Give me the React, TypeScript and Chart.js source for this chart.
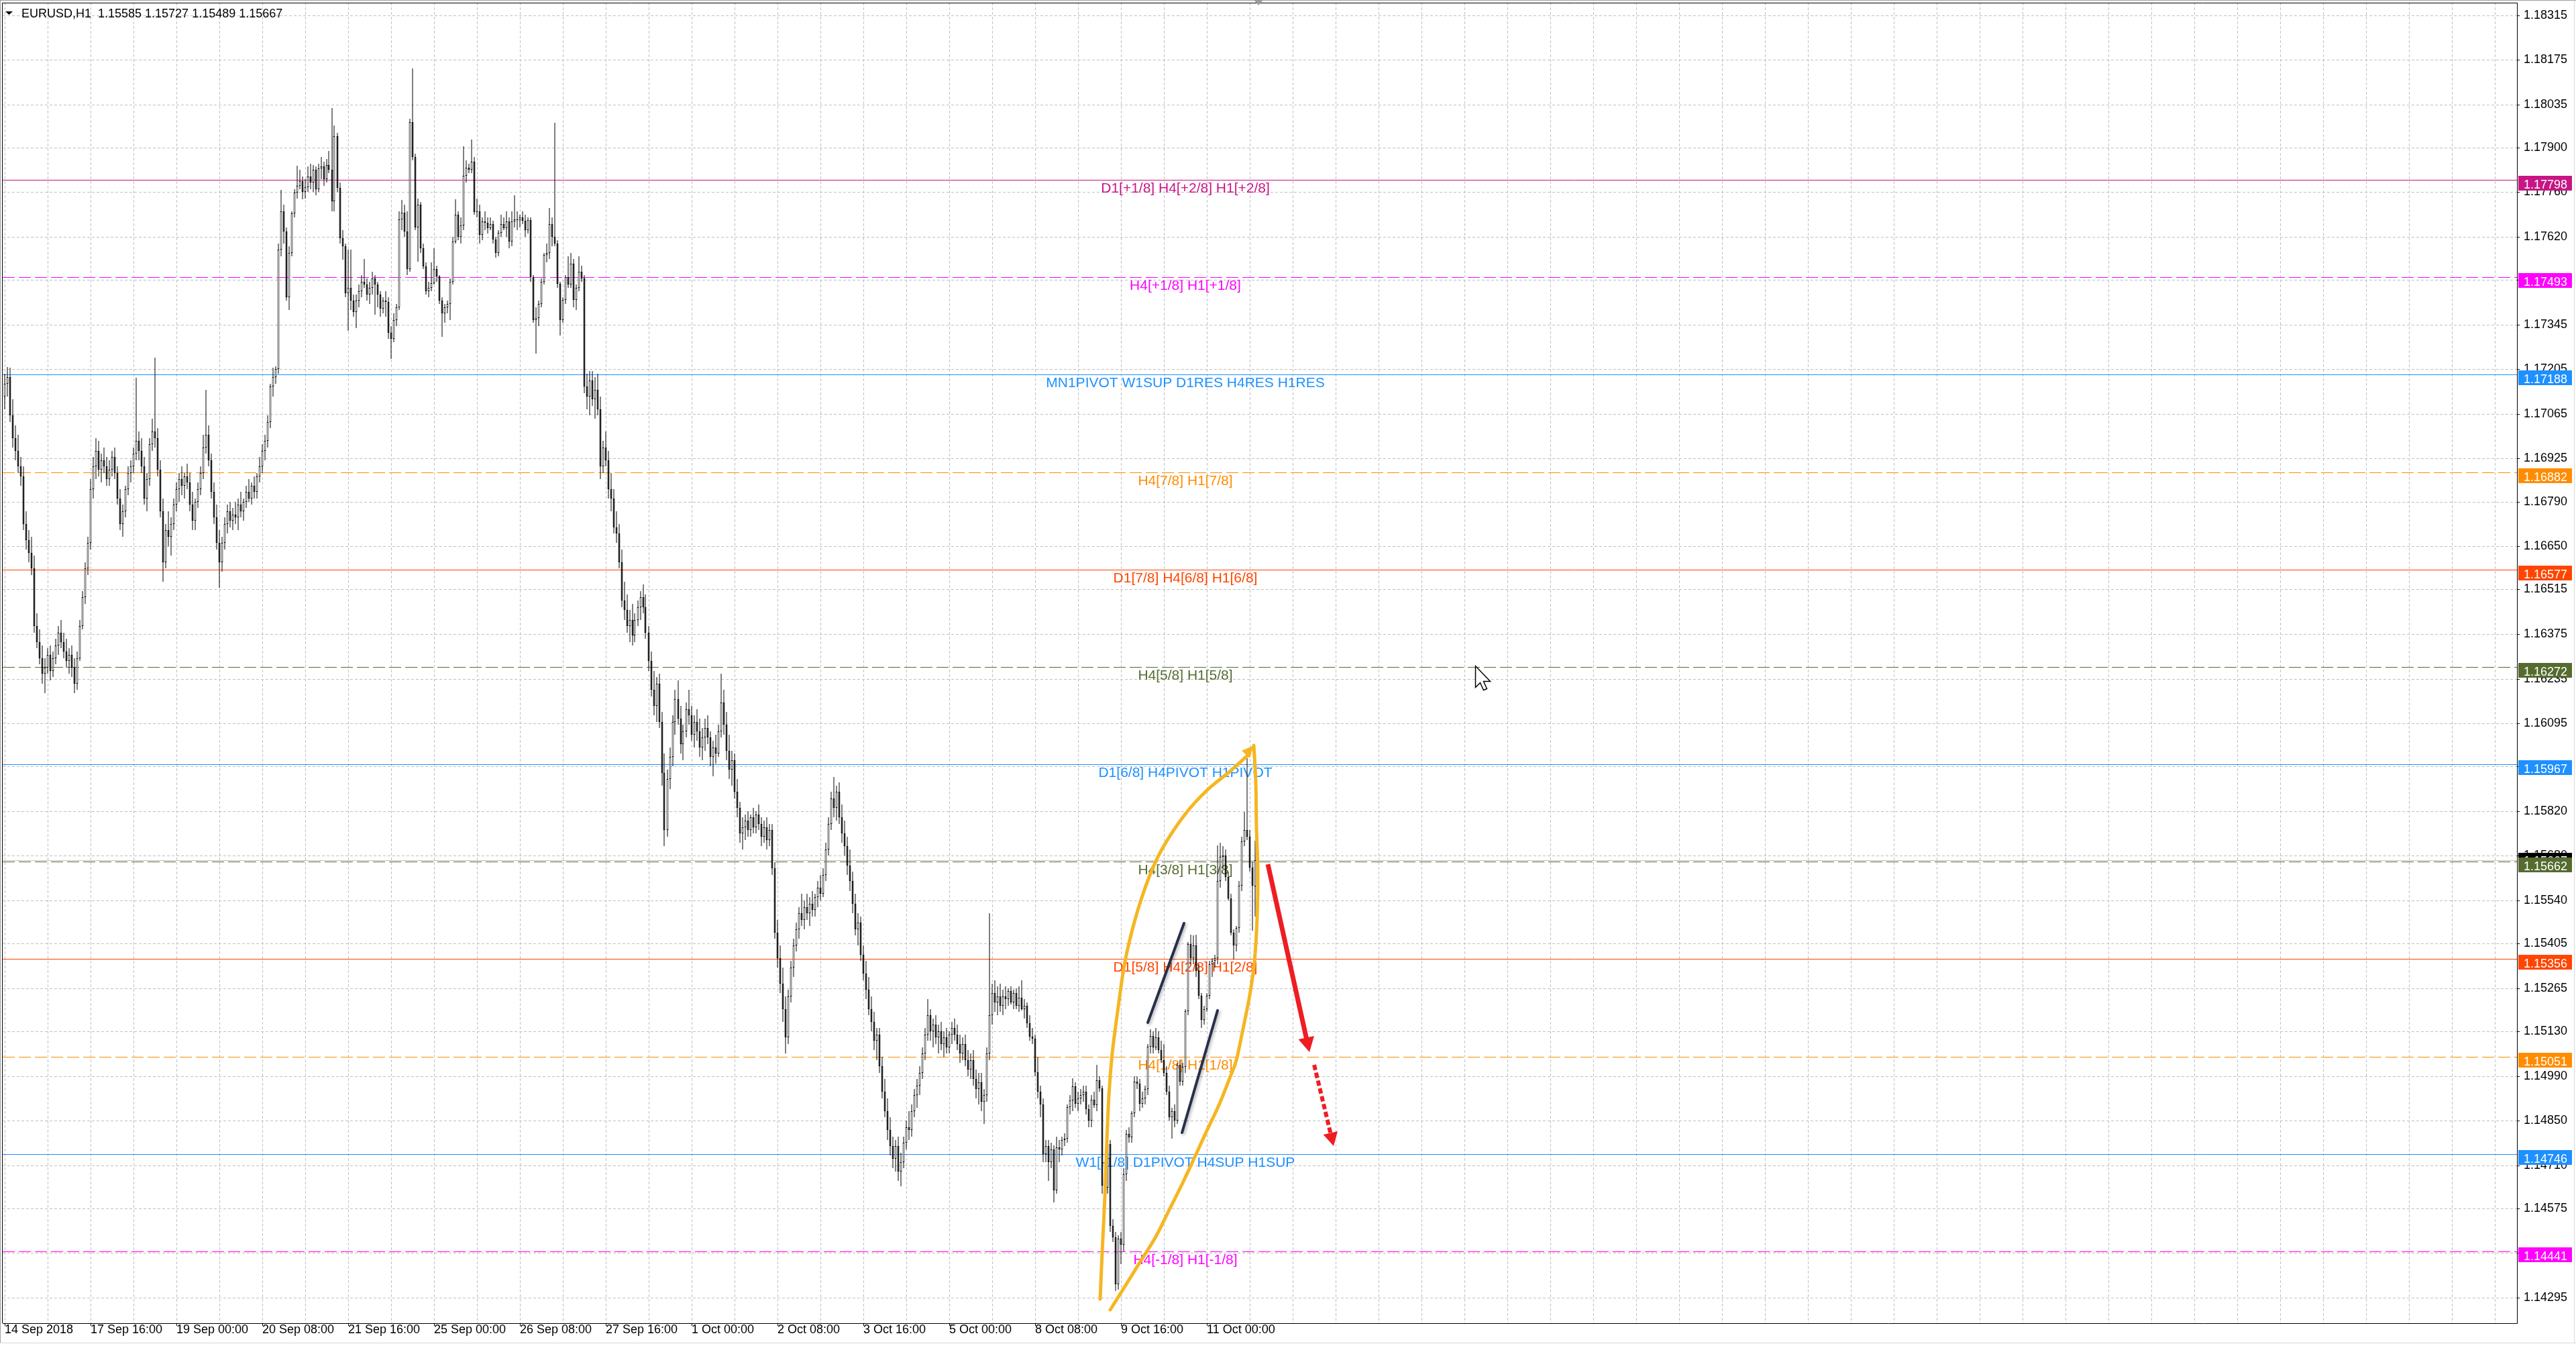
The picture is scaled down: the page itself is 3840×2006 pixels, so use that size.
import React, { useEffect, useRef } from 'react';
import { Chart, registerables } from 'chart.js';

Chart.register(...registerables);

const W = 3840;
const H = 2006;
const FONT = '"Liberation Sans", Arial, sans-serif';

// prices are stored in points (0.00001) above BASE
const BASE = 1.14;
const POINT = 0.00001;

const opens = [
3120,3160,3180,3060,2990,2950,2900,2870,2720,2670,
2630,2580,2400,2350,2300,2250,2270,2310,2260,2300,
2340,2380,2350,2320,2290,2310,2270,2220,2300,2400,
2490,2580,2660,2830,2900,2950,2890,2920,2900,2860,
2890,2930,2880,2800,2720,2760,2830,2880,2900,2940,
2980,2950,2900,2800,2860,2970,3010,2990,2890,2760,
2600,2700,2680,2720,2780,2830,2860,2840,2870,2850,
2780,2730,2790,2830,2880,2960,3000,2920,2820,2740,
2660,2600,2660,2720,2760,2730,2750,2740,2780,2760,
2790,2820,2800,2840,2820,2870,2900,2950,2980,3040,
3150,3180,3205,3580,3700,3637,3430,3570,3693,3758,
3780,3795,3760,3775,3810,3790,3830,3770,3835,3840,
3800,3845,3830,3731,3935,3773,3615,3590,3444,3460,
3420,3385,3420,3450,3480,3470,3440,3460,3490,3470,
3440,3395,3420,3415,3320,3300,3360,3400,3675,3696,
3636,3520,3980,3870,3650,3720,3585,3528,3450,3460,
3475,3520,3495,3420,3380,3400,3410,3480,3605,3690,
3620,3655,3812,3836,3830,3855,3697,3700,3626,3668,
3664,3647,3660,3612,3570,3633,3661,3647,3668,3605,
3668,3675,3672,3680,3670,3640,3672,3493,3360,3365,
3410,3480,3563,3570,3661,3620,3598,3472,3360,3423,
3493,3470,3535,3423,3460,3510,3490,3150,3120,3170,
3110,3140,3080,2900,2960,2920,2830,2800,2710,2690,
2600,2480,2450,2400,2420,2370,2420,2460,2490,2460,
2380,2290,2200,2150,2220,2100,1940,1760,1920,1990,
2100,2170,2110,2030,2070,2140,2120,2060,2100,2070,
2020,2050,2080,2050,1990,2020,2000,2070,2160,2090,
2010,1950,1980,1880,1830,1750,1770,1790,1760,1800,
1770,1810,1780,1740,1770,1730,1760,1640,1440,1360,
1280,1200,1110,1240,1330,1400,1450,1500,1480,1520,
1500,1530,1510,1550,1580,1560,1620,1700,1780,1860,
1830,1880,1800,1750,1710,1650,1600,1530,1450,1470,
1370,1310,1260,1200,1160,1100,1120,1020,940,880,
820,770,730,770,690,720,780,830,820,880,
930,960,1000,1060,1120,1180,1130,1150,1110,1130,
1090,1110,1080,1120,1140,1120,1090,1060,1090,1040,
1010,1040,980,950,970,910,930,1060,1180,1250,
1220,1240,1210,1240,1230,1256,1221,1250,1210,1235,
1200,1210,1155,1113,1106,1001,940,900,744,770,
720,760,632,765,760,790,794,892,913,958,
902,920,930,941,885,850,916,899,976,951,
646,640,776,520,485,338,480,461,681,808,
797,874,972,965,902,920,948,1081,1116,1080,
1110,1070,1040,1000,940,860,880,850,1025,972,
1018,1193,1404,1360,1400,1320,1242,1165,1200,1242,
1340,1350,1360,1600,1677,1680,1614,1547,1439,1400,
1453,1586,1726,1761,1740,1642,1585
];

const highs = [
3190,3213,3210,3110,3030,3000,2930,2900,2760,2700,
2680,2620,2440,2390,2340,2300,2330,2340,2320,2360,
2400,2420,2380,2360,2330,2340,2300,2320,2420,2510,
2600,2680,2860,2930,2990,2980,2940,2960,2930,2920,
2950,2960,2900,2830,2780,2840,2900,2920,2960,3178,
3010,2990,2930,2880,2990,3050,3241,3020,2920,2800,
2720,2760,2740,2800,2850,2880,2900,2880,2910,2880,
2820,2800,2850,2900,3000,3140,3030,2940,2850,2780,
2700,2680,2740,2780,2790,2770,2790,2800,2820,2800,
2840,2860,2850,2870,2880,2930,2970,3000,3060,3160,
3210,3215,3600,3767,3720,3650,3590,3700,3770,3843,
3830,3810,3800,3840,3850,3845,3840,3850,3870,3855,
3865,3890,4023,3970,3945,3790,3640,3600,3580,3580,
3440,3440,3470,3500,3550,3490,3480,3510,3500,3480,
3450,3430,3450,3430,3340,3380,3410,3700,3735,3720,
3700,3990,4148,3880,3740,3730,3600,3540,3480,3540,
3584,3530,3500,3430,3410,3420,3490,3620,3738,3700,
3680,3903,3860,3850,3924,3870,3740,3720,3680,3700,
3680,3680,3670,3620,3640,3690,3680,3700,3680,3700,
3751,3700,3690,3700,3690,3680,3680,3500,3400,3420,
3490,3570,3600,3710,3680,3977,3610,3480,3430,3500,
3560,3570,3550,3470,3560,3530,3500,3190,3200,3200,
3180,3190,3120,2980,3010,2950,2880,2830,2760,2720,
2640,2540,2500,2450,2470,2440,2480,2510,2530,2500,
2400,2320,2260,2240,2250,2130,2000,1950,2020,2120,
2200,2230,2150,2090,2160,2200,2150,2120,2140,2110,
2080,2110,2120,2070,2040,2060,2090,2250,2200,2130,
2060,2010,2000,1920,1850,1800,1810,1820,1810,1830,
1820,1840,1800,1790,1800,1780,1780,1660,1480,1400,
1330,1240,1260,1350,1420,1470,1520,1560,1540,1560,
1550,1570,1560,1600,1620,1640,1720,1800,1880,1926,
1900,1910,1840,1790,1740,1700,1630,1560,1500,1490,
1400,1350,1300,1240,1190,1140,1140,1050,980,920,
860,800,790,800,750,800,850,880,900,950,
980,1020,1080,1140,1230,1200,1170,1180,1150,1160,
1130,1140,1130,1160,1170,1150,1120,1110,1120,1070,
1060,1070,1010,1000,1000,950,1080,1500,1280,1290,
1270,1280,1260,1270,1265,1270,1260,1265,1270,1290,
1230,1220,1180,1140,1120,1050,960,920,790,790,
780,773,800,790,800,810,900,930,983,970,
940,950,960,960,900,930,940,1025,990,960,
690,790,790,540,500,490,500,700,820,830,
880,990,990,980,940,960,1090,1137,1130,1140,
1130,1100,1090,1020,960,890,900,1030,1040,1030,
1200,1410,1432,1430,1432,1340,1250,1210,1250,1350,
1360,1370,1712,1720,1710,1700,1630,1560,1450,1460,
1600,1740,1817,1985,1760,1660,1727
];

const lows = [
3080,3120,3040,2960,2920,2880,2840,2700,2640,2600,
2560,2380,2330,2280,2220,2190,2250,2230,2240,2280,
2310,2330,2300,2270,2250,2240,2190,2200,2290,2390,
2470,2560,2640,2800,2860,2870,2850,2880,2840,2840,
2870,2860,2780,2700,2680,2740,2810,2850,2880,2920,
2920,2880,2780,2760,2840,2950,2960,2870,2740,2540,
2580,2650,2620,2700,2760,2790,2810,2800,2830,2760,
2700,2700,2770,2810,2860,2940,2900,2800,2720,2640,
2520,2570,2640,2690,2710,2700,2720,2700,2740,2730,
2770,2790,2780,2800,2800,2850,2880,2920,2960,3020,
3120,3160,3190,3560,3600,3420,3390,3560,3680,3740,
3770,3738,3740,3760,3770,3760,3750,3760,3800,3780,
3790,3820,3700,3700,3760,3600,3548,3430,3325,3390,
3370,3335,3400,3430,3460,3420,3410,3440,3377,3400,
3370,3380,3370,3300,3237,3290,3340,3390,3640,3620,
3500,3510,3860,3640,3542,3570,3520,3440,3430,3450,
3470,3480,3410,3307,3350,3380,3360,3470,3600,3610,
3600,3640,3790,3820,3820,3690,3680,3600,3610,3640,
3630,3640,3600,3555,3560,3620,3640,3620,3585,3590,
3650,3640,3650,3660,3620,3630,3480,3350,3255,3340,
3400,3470,3540,3550,3590,3590,3460,3311,3350,3410,
3460,3460,3400,3390,3450,3480,3130,3080,3060,3090,
3050,3060,2860,2880,2900,2800,2760,2690,2660,2580,
2460,2420,2380,2350,2340,2350,2400,2420,2440,2360,
2260,2180,2120,2100,2080,1900,1710,1740,1890,1960,
2060,2090,2000,1980,2050,2090,2040,2020,2040,1990,
1980,2010,2030,1960,1930,1970,1990,2050,2060,1980,
1920,1900,1860,1800,1720,1700,1730,1740,1740,1750,
1750,1760,1710,1720,1700,1710,1620,1420,1330,1250,
1160,1060,1090,1220,1300,1380,1420,1460,1450,1480,
1460,1490,1490,1520,1540,1550,1600,1680,1760,1800,
1790,1780,1720,1680,1620,1570,1500,1430,1400,1350,
1290,1230,1180,1130,1070,1040,1000,920,860,790,
740,700,690,660,644,700,760,790,800,860,
890,930,980,1040,1100,1100,1080,1090,1060,1070,
1050,1060,1060,1090,1100,1070,1030,1040,1020,990,
980,960,920,900,880,840,910,1040,1150,1190,
1180,1190,1180,1200,1210,1215,1200,1200,1190,1195,
1170,1140,1100,1090,990,920,860,720,720,660,
700,594,620,720,740,770,780,870,880,890,
880,900,910,870,830,830,890,880,940,620,
580,620,500,470,317,320,400,440,660,780,
780,860,950,880,890,900,930,1060,1060,1070,
1060,1030,990,930,850,794,830,840,960,960,
1000,1180,1340,1340,1300,1230,1141,1150,1190,1230,
1300,1330,1340,1580,1640,1600,1540,1430,1355,1380,
1440,1570,1710,1730,1630,1446,1489
];

const closes = [
3160,3180,3060,2990,2950,2900,2870,2720,2670,2630,
2580,2400,2350,2300,2250,2270,2310,2260,2300,2340,
2380,2350,2320,2290,2310,2270,2220,2300,2400,2490,
2580,2660,2830,2900,2950,2890,2920,2900,2860,2890,
2930,2880,2800,2720,2760,2830,2880,2900,2940,2980,
2950,2900,2800,2860,2970,3010,2990,2890,2760,2600,
2700,2680,2720,2780,2830,2860,2840,2870,2850,2780,
2730,2790,2830,2880,2960,3000,2920,2820,2740,2660,
2600,2660,2720,2760,2730,2750,2740,2780,2760,2790,
2820,2800,2840,2820,2870,2900,2950,2980,3040,3150,
3180,3205,3580,3700,3637,3430,3570,3693,3758,3780,
3795,3760,3775,3810,3790,3830,3770,3835,3840,3800,
3845,3830,3731,3935,3773,3615,3590,3444,3460,3420,
3385,3420,3450,3480,3470,3440,3460,3490,3470,3440,
3395,3420,3415,3320,3300,3360,3400,3675,3696,3636,
3520,3980,3870,3650,3720,3585,3528,3450,3460,3475,
3520,3495,3420,3380,3400,3410,3480,3605,3690,3620,
3655,3812,3836,3830,3855,3697,3700,3626,3668,3664,
3647,3660,3612,3570,3633,3661,3647,3668,3605,3668,
3675,3672,3680,3670,3640,3672,3493,3360,3365,3410,
3480,3563,3570,3661,3620,3598,3472,3360,3423,3493,
3470,3535,3423,3460,3510,3490,3150,3120,3170,3110,
3140,3080,2900,2960,2920,2830,2800,2710,2690,2600,
2480,2450,2400,2420,2370,2420,2460,2490,2460,2380,
2290,2200,2150,2220,2100,1940,1760,1920,1990,2100,
2170,2110,2030,2070,2140,2120,2060,2100,2070,2020,
2050,2080,2050,1990,2020,2000,2070,2160,2090,2010,
1950,1980,1880,1830,1750,1770,1790,1760,1800,1770,
1810,1780,1740,1770,1730,1760,1640,1440,1360,1280,
1200,1110,1240,1330,1400,1450,1500,1480,1520,1500,
1530,1510,1550,1580,1560,1620,1700,1780,1860,1830,
1880,1800,1750,1710,1650,1600,1530,1450,1470,1370,
1310,1260,1200,1160,1100,1120,1020,940,880,820,
770,730,770,690,720,780,830,820,880,930,
960,1000,1060,1120,1180,1130,1150,1110,1130,1090,
1110,1080,1120,1140,1120,1090,1060,1090,1040,1010,
1040,980,950,970,910,930,1060,1180,1250,1220,
1240,1210,1240,1230,1256,1221,1250,1210,1235,1200,
1210,1155,1113,1106,1001,940,900,744,770,720,
760,632,765,760,790,794,892,913,958,902,
920,930,941,885,850,916,899,976,951,646,
640,776,520,485,338,480,461,681,808,797,
874,972,965,902,920,948,1081,1116,1080,1110,
1070,1040,1000,940,860,880,850,1025,972,1018,
1193,1404,1360,1400,1320,1242,1165,1200,1242,1340,
1350,1360,1600,1677,1680,1614,1547,1439,1400,1453,
1586,1726,1761,1740,1642,1586,1667
];

// time axis labels, one every LABEL_STEP bars starting at bar 0
const timeLabels = [
  '14 Sep 2018', '17 Sep 16:00', '19 Sep 00:00', '20 Sep 08:00', '21 Sep 16:00',
  '25 Sep 00:00', '26 Sep 08:00', '27 Sep 16:00', '1 Oct 00:00', '2 Oct 08:00',
  '3 Oct 16:00', '5 Oct 00:00', '8 Oct 08:00', '9 Oct 16:00', '11 Oct 00:00',
];
const LABEL_STEP = 32;
const GRID_STEP = 16;

const priceTicks = [
  1.18315, 1.18175, 1.18035, 1.179, 1.1776, 1.1762, 1.17485, 1.17345, 1.17205, 1.17065,
  1.16925, 1.1679, 1.1665, 1.16515, 1.16375, 1.16235, 1.16095, 1.1596, 1.1582, 1.1568,
  1.1554, 1.15405, 1.15265, 1.1513, 1.1499, 1.1485, 1.1471, 1.14575, 1.14435, 1.14295,
];

// horizontal pivot / murrey levels
const levelPrices = [1.17798, 1.17493, 1.17188, 1.16882, 1.16577, 1.16272, 1.15967, 1.15662, 1.15356, 1.15051, 1.14746, 1.14441];
const levelTexts = [
  'D1[+1/8] H4[+2/8] H1[+2/8]',
  'H4[+1/8] H1[+1/8]',
  'MN1PIVOT W1SUP D1RES H4RES H1RES',
  'H4[7/8] H1[7/8]',
  'D1[7/8] H4[6/8] H1[6/8]',
  'H4[5/8] H1[5/8]',
  'D1[6/8] H4PIVOT H1PIVOT',
  'H4[3/8] H1[3/8]',
  'D1[5/8] H4[2/8] H1[2/8]',
  'H4[1/8] H1[1/8]',
  'W1[-1/8] D1PIVOT H4SUP H1SUP',
  'H4[-1/8] H1[-1/8]',
];
const levelColors = ['#C71585', '#FF00FF', '#1E90FF', '#FF8C00', '#FF4500', '#556B2F', '#1E90FF', '#556B2F', '#FF4500', '#FF8C00', '#1E90FF', '#FF00FF'];
const levelDashed = [false, true, false, true, false, true, false, true, false, true, false, true];
const LEVEL_LABEL_BAR = 440;

const bidPrice = 1.15667;
const symbolText = 'EURUSD,H1';
const ohlcText = '1.15585 1.15727 1.15489 1.15667';

// hand drawn objects, in (bar, price)
const curveUpBars = [408.4, 409.2, 410.05, 410.9, 411.7, 412.9, 415.05, 417.55, 421.7, 426.7, 431.7, 440.05, 448.4, 456.7, 464.2, 465.6];
const curveUpPrices = [1.14291, 1.14437, 1.14612, 1.14787, 1.14927, 1.1506, 1.15208, 1.15348, 1.15488, 1.15614, 1.15705, 1.15811, 1.15888, 1.15944, 1.16, 1.16026];
const curveDownBars = [465.6, 466.3, 466.7, 467.1, 466.9, 465.9, 464.2, 461.7, 459.2, 456.7, 452.55, 448.4, 444.2, 439.2, 434.2, 429.2, 423.4, 417.55, 412.1];
const curveDownPrices = [1.16026, 1.15909, 1.15768, 1.15628, 1.15488, 1.15348, 1.15243, 1.15138, 1.15039, 1.14983, 1.14899, 1.14822, 1.14745, 1.14654, 1.1457, 1.14486, 1.14409, 1.14331, 1.14258];
const channelBars = [[426.05, 439.6], [438.8, 452.1]];
const channelPrices = [[1.15157, 1.15468], [1.14812, 1.15195]];
const arrowBars = [470.9, 486.3];
const arrowPrices = [1.15653, 1.15064];
const dotArrowBars = [488.2, 495.45];
const dotArrowPrices = [1.15024, 1.1477];
const cursorBar = 548.1;
const cursorPrice = 1.16276;
const shiftBar = 467.4;

const X_MIN = -0.625;
const X_MAX = 936.375;
const Y_MIN = 1.14215;
const Y_MAX = 1.18354;

const YELLOW = '#F5B622';
const NAVY = '#27304A';
const RED = '#EE1D23';

const labelFor = (v: number) => {
  const r = Math.round(v);
  if (r % LABEL_STEP !== 0) return '';
  const k = r / LABEL_STEP;
  return k >= 0 && k < timeLabels.length ? timeLabels[k] : '';
};

function smoothPath(ctx: CanvasRenderingContext2D, pts: number[][]) {
  ctx.moveTo(pts[0][0], pts[0][1]);
  for (let k = 0; k < pts.length - 1; k++) {
    const p0 = pts[k - 1] || pts[k];
    const p1 = pts[k];
    const p2 = pts[k + 1];
    const p3 = pts[k + 2] || pts[k + 1];
    ctx.bezierCurveTo(
      p1[0] + (p2[0] - p0[0]) / 6, p1[1] + (p2[1] - p0[1]) / 6,
      p2[0] - (p3[0] - p1[0]) / 6, p2[1] - (p3[1] - p1[1]) / 6,
      p2[0], p2[1]
    );
  }
}

function arrowHead(ctx: CanvasRenderingContext2D, from: number[], to: number[], len: number, half: number) {
  const ang = Math.atan2(to[1] - from[1], to[0] - from[0]);
  const c = Math.cos(ang), s = Math.sin(ang);
  const bx = to[0] - len * c, by = to[1] - len * s;
  ctx.beginPath();
  ctx.moveTo(to[0], to[1]);
  ctx.lineTo(bx + half * s, by - half * c);
  ctx.lineTo(bx - half * s, by + half * c);
  ctx.closePath();
  ctx.fill();
}

const levelsPlugin = {
  id: 'levels',
  beforeDatasetsDraw(chart: any) {
    const { ctx, chartArea: a, scales } = chart;
    const x = scales.x, y = scales.y;
    ctx.save();
    ctx.beginPath();
    ctx.rect(a.left, a.top, a.right - a.left, a.bottom - a.top);
    ctx.clip();
    // bid line
    const yb = Math.round(y.getPixelForValue(bidPrice)) + 0.5;
    ctx.strokeStyle = '#C0C0C0';
    ctx.lineWidth = 1;
    ctx.setLineDash([]);
    ctx.beginPath();
    ctx.moveTo(a.left, yb);
    ctx.lineTo(a.right, yb);
    ctx.stroke();
    const xc = x.getPixelForValue(LEVEL_LABEL_BAR);
    levelPrices.forEach((p, k) => {
      const yy = Math.round(y.getPixelForValue(p)) + 0.5;
      ctx.strokeStyle = levelColors[k];
      ctx.lineWidth = 1;
      ctx.setLineDash(levelDashed[k] ? [18, 6] : []);
      ctx.beginPath();
      ctx.moveTo(a.left, yy);
      ctx.lineTo(a.right, yy);
      ctx.stroke();
      ctx.setLineDash([]);
      ctx.font = '21px ' + FONT;
      ctx.fillStyle = levelColors[k];
      ctx.textAlign = 'center';
      ctx.textBaseline = 'alphabetic';
      ctx.fillText(levelTexts[k], xc, yy + 18.5);
    });
    ctx.restore();
  },
};

const drawingsPlugin = {
  id: 'drawings',
  afterDatasetsDraw(chart: any) {
    const { ctx, chartArea: a, scales } = chart;
    const x = scales.x, y = scales.y;
    const P = (b: number, p: number) => [x.getPixelForValue(b), y.getPixelForValue(p)];
    ctx.save();
    ctx.beginPath();
    ctx.rect(a.left, a.top, a.right - a.left, a.bottom - a.top);
    ctx.clip();
    ctx.setLineDash([]);

    // channel lines
    ctx.save();
    ctx.shadowColor = 'rgba(0,0,0,0.3)';
    ctx.shadowBlur = 4;
    ctx.shadowOffsetX = 2;
    ctx.shadowOffsetY = 2;
    ctx.strokeStyle = NAVY;
    ctx.lineWidth = 4;
    ctx.lineCap = 'round';
    channelBars.forEach((bs, k) => {
      const p0 = P(bs[0], channelPrices[k][0]);
      const p1 = P(bs[1], channelPrices[k][1]);
      ctx.beginPath();
      ctx.moveTo(p0[0], p0[1]);
      ctx.lineTo(p1[0], p1[1]);
      ctx.stroke();
    });
    ctx.restore();

    // yellow curved shape
    const up = curveUpBars.map((b, k) => P(b, curveUpPrices[k]));
    const down = curveDownBars.map((b, k) => P(b, curveDownPrices[k]));
    ctx.strokeStyle = YELLOW;
    ctx.lineWidth = 5;
    ctx.lineCap = 'round';
    ctx.lineJoin = 'round';
    ctx.beginPath();
    smoothPath(ctx, up.slice(0, up.length - 1));
    ctx.stroke();
    ctx.beginPath();
    smoothPath(ctx, down);
    ctx.stroke();
    ctx.fillStyle = YELLOW;
    arrowHead(ctx, up[up.length - 3], up[up.length - 1], 18, 8);

    // red arrow
    const a0 = P(arrowBars[0], arrowPrices[0]);
    const a1 = P(arrowBars[1], arrowPrices[1]);
    const ang = Math.atan2(a1[1] - a0[1], a1[0] - a0[0]);
    ctx.strokeStyle = RED;
    ctx.fillStyle = RED;
    ctx.lineWidth = 7;
    ctx.lineCap = 'butt';
    ctx.beginPath();
    ctx.moveTo(a0[0], a0[1]);
    ctx.lineTo(a1[0] - 16 * Math.cos(ang), a1[1] - 16 * Math.sin(ang));
    ctx.stroke();
    arrowHead(ctx, a0, a1, 22, 12);

    // dotted red arrow
    const d0 = P(dotArrowBars[0], dotArrowPrices[0]);
    const d1 = P(dotArrowBars[1], dotArrowPrices[1]);
    const ang2 = Math.atan2(d1[1] - d0[1], d1[0] - d0[0]);
    ctx.lineWidth = 6;
    ctx.setLineDash([8, 4]);
    ctx.beginPath();
    ctx.moveTo(d0[0], d0[1]);
    ctx.lineTo(d1[0] - 16 * Math.cos(ang2), d1[1] - 16 * Math.sin(ang2));
    ctx.stroke();
    ctx.setLineDash([]);
    arrowHead(ctx, d0, d1, 20, 11);
    ctx.restore();
  },
};

const framePlugin = {
  id: 'frame',
  afterDraw(chart: any) {
    const { ctx, chartArea: a, scales } = chart;
    const x = scales.x, y = scales.y;
    ctx.save();
    ctx.setLineDash([]);
    // outer window lines
    ctx.strokeStyle = '#A0A0A0';
    ctx.lineWidth = 1;
    ctx.beginPath();
    ctx.moveTo(0, 0.5); ctx.lineTo(W, 0.5);
    ctx.moveTo(0.5, 0); ctx.lineTo(0.5, 2002);
    ctx.stroke();
    ctx.strokeStyle = '#D8D8D8';
    ctx.beginPath();
    ctx.moveTo(W - 2.5, 0); ctx.lineTo(W - 2.5, 2002);
    ctx.moveTo(0, 2001.5); ctx.lineTo(W, 2001.5);
    ctx.stroke();
    // chart frame (top & left)
    ctx.strokeStyle = '#000';
    ctx.beginPath();
    ctx.moveTo(a.left - 0.5, a.top + 0.5); ctx.lineTo(a.right, a.top + 0.5);
    ctx.moveTo(a.left - 0.5, a.top); ctx.lineTo(a.left - 0.5, a.bottom);
    ctx.stroke();
    // chart shift marker
    const sx = x.getPixelForValue(shiftBar);
    ctx.fillStyle = '#9A9A9A';
    ctx.beginPath();
    ctx.moveTo(sx - 7, 0); ctx.lineTo(sx + 7, 0); ctx.lineTo(sx, 8);
    ctx.closePath();
    ctx.fill();

    // title
    ctx.fillStyle = '#000';
    ctx.beginPath();
    ctx.moveTo(8, 17); ctx.lineTo(19, 17); ctx.lineTo(13.5, 22);
    ctx.closePath();
    ctx.fill();
    ctx.font = '18px ' + FONT;
    ctx.textAlign = 'left';
    ctx.textBaseline = 'alphabetic';
    ctx.fillText(symbolText, 32, 26);
    ctx.fillText(ohlcText, 146, 26);

    // price labels on axis
    const bx = a.right + 2;
    const yc = y.getPixelForValue(bidPrice);
    ctx.fillStyle = '#000';
    ctx.fillRect(bx, Math.round(yc - 11), 80, 22);
    ctx.fillStyle = '#fff';
    ctx.fillText(bidPrice.toFixed(5), a.right + 10, yc + 6.5);
    levelPrices.forEach((p, k) => {
      const yy = Math.round(y.getPixelForValue(p));
      ctx.fillStyle = levelColors[k];
      ctx.fillRect(bx, yy - 6, 80, 22);
      ctx.fillStyle = '#fff';
      ctx.fillText(p.toFixed(5), a.right + 10, yy + 13);
    });

    // mouse cursor
    const cx = Math.round(x.getPixelForValue(cursorBar)) + 0.5;
    const cy = Math.round(y.getPixelForValue(cursorPrice)) + 0.5;
    const cur = [[0, 0], [0, 32], [7, 25], [12, 36], [17, 34], [12, 23], [22, 23]];
    ctx.beginPath();
    cur.forEach((q, k) => (k === 0 ? ctx.moveTo(cx + q[0], cy + q[1]) : ctx.lineTo(cx + q[0], cy + q[1])));
    ctx.closePath();
    ctx.fillStyle = '#fff';
    ctx.fill();
    ctx.strokeStyle = '#000';
    ctx.lineWidth = 1.5;
    ctx.stroke();
    ctx.restore();
  },
};

export default function App() {
  const ref = useRef<HTMLCanvasElement>(null);
  useEffect(() => {
    const canvas = ref.current;
    if (!canvas) return;
    const wickData = highs.map((h, i) => ({ x: i, y: [BASE + lows[i] * POINT, BASE + h * POINT] }));
    const bodyData = opens.map((o, i) => {
      const c = closes[i];
      return { x: i, y: [BASE + Math.min(o, c) * POINT, BASE + Math.max(o, c) * POINT] };
    });
    const bodyFill = opens.map((o, i) => (closes[i] >= o ? '#ffffff' : '#000000'));
    const gridBars: number[] = [];
    for (let v = 0; v <= X_MAX; v += GRID_STEP) gridBars.push(v);

    const chart = new Chart(canvas, {
      type: 'bar',
      data: {
        datasets: [
          {
            label: 'wick',
            data: wickData as any,
            backgroundColor: '#000000',
            borderWidth: 0,
            barThickness: 1,
            grouped: false,
            order: 2,
            inflateAmount: 0,
          } as any,
          {
            label: 'body',
            data: bodyData as any,
            backgroundColor: bodyFill,
            borderColor: '#000000',
            borderWidth: 1,
            borderSkipped: false,
            barThickness: 3,
            grouped: false,
            order: 1,
            minBarLength: 1,
            inflateAmount: 0,
          } as any,
        ],
      },
      options: {
        responsive: false,
        animation: false,
        devicePixelRatio: 1,
        events: [],
        layout: { padding: { left: 4, top: 4, right: 0, bottom: 0 } },
        plugins: { legend: { display: false }, tooltip: { enabled: false }, title: { display: false } },
        scales: {
          x: {
            type: 'linear',
            position: 'bottom',
            min: X_MIN,
            max: X_MAX,
            offset: false,
            alignToPixels: true,
            afterBuildTicks: (s: any) => {
              s.ticks = gridBars.map((v) => ({ value: v }));
            },
            afterFit: (s: any) => {
              s.height = 34;
              s.paddingLeft = 0; s.paddingRight = 0; s.paddingTop = 0; s.paddingBottom = 0;
            },
            grid: {
              offset: false,
              color: '#C0C0C0',
              lineWidth: 1,
              drawTicks: true,
              tickLength: 4,
              tickWidth: 1,
              tickColor: (c: any) => (labelFor(c.tick ? c.tick.value : -1) ? '#000000' : 'rgba(0,0,0,0)'),
            },
            border: { display: true, color: '#000000', width: 1, dash: [4, 3] },
            ticks: {
              autoSkip: false,
              maxRotation: 0,
              minRotation: 0,
              align: 'start',
              padding: -5,
              color: '#000000',
              font: { family: FONT, size: 18 },
              callback: (v: any) => labelFor(Number(v)),
            },
          } as any,
          y: {
            type: 'linear',
            position: 'right',
            min: Y_MIN,
            max: Y_MAX,
            alignToPixels: true,
            afterBuildTicks: (s: any) => {
              s.ticks = priceTicks.map((v) => ({ value: v }));
            },
            afterFit: (s: any) => {
              s.width = 88;
              s.paddingLeft = 0; s.paddingRight = 0; s.paddingTop = 0; s.paddingBottom = 0;
            },
            grid: { color: '#C0C0C0', lineWidth: 1, tickLength: 4, tickWidth: 1, tickColor: '#000000' },
            border: { display: true, color: '#000000', width: 1, dash: [4, 3] },
            ticks: {
              autoSkip: false,
              padding: 6,
              color: '#000000',
              font: { family: FONT, size: 18 },
              callback: (v: any) => Number(v).toFixed(5),
            },
          } as any,
        },
      } as any,
      plugins: [levelsPlugin, drawingsPlugin, framePlugin],
    });
    return () => chart.destroy();
  }, []);

  return (
    <div style={{ position: 'absolute', left: 0, top: 0, width: W, height: H, background: '#ffffff', overflow: 'hidden' }}>
      <canvas ref={ref} width={W} height={H} style={{ display: 'block', width: W, height: H }} />
    </div>
  );
}
